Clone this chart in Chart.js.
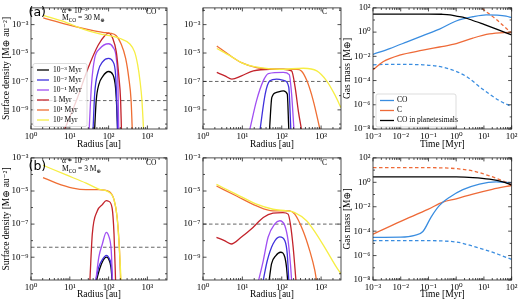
<!DOCTYPE html>
<html>
<head>
<meta charset="utf-8">
<script src="https://cdn.jsdelivr.net/npm/chart.js@4.4.1/dist/chart.umd.min.js"></script>
<style>
  html, body { margin: 0; padding: 0; background: #fff; }
  #fig { position: relative; width: 520px; height: 300px; overflow: hidden; }
  #fig canvas { position: absolute; }
</style>
</head>
<body>
<div id="fig">
  <canvas id="coA" width="170" height="150" style="left:0;top:0"></canvas>
  <canvas id="cA" width="173" height="150" style="left:170px;top:0"></canvas>
  <canvas id="massA" width="180" height="150" style="left:340px;top:0"></canvas>
  <canvas id="coB" width="170" height="150" style="left:0;top:150px"></canvas>
  <canvas id="cB" width="173" height="150" style="left:170px;top:150px"></canvas>
  <canvas id="massB" width="180" height="150" style="left:340px;top:150px"></canvas>
</div>
<script>
// ---- axis ticks ----
const radiusTicks = [1, 10, 100, 1000];
const radiusTickLabels = ['10⁰', '10¹', '10²', '10³'];
const sigmaTicks = [1e-9, 1e-7, 1e-5, 1e-3];
const sigmaTickLabels = ['10⁻⁹', '10⁻⁷', '10⁻⁵', '10⁻³'];
const timeTicks = [1e-3, 1e-2, 1e-1, 1, 10, 100];
const timeTickLabels = ['10⁻³', '10⁻²', '10⁻¹', '10⁰', '10¹', '10²'];
const massTicks = [1e-8, 1e-6, 1e-4, 1e-2, 1, 100];
const massTickLabels = ['10⁻⁸', '10⁻⁶', '10⁻⁴', '10⁻²', '10⁰', '10²'];

const snapshotLabels = ['10⁻³ Myr', '10⁻² Myr', '10⁻¹ Myr', '1 Myr', '10¹ Myr', '10² Myr'];
const massLabels = ['CO', 'C', 'CO in planetesimals'];

// ---- surface density snapshots [radius au, sigma] ----
// (a) CO, M_CO = 30
const coA_kyr1 = [[43.7,4.5e-11],[47.9,4.5e-9],[56.2,6.3e-8],[70.8,2.3e-7],[100,5.0e-7],[129,3.0e-7],[151,3.6e-8],[162,1.6e-9],[170,4.5e-11]];
const coA_kyr10 = [[39.8,4.5e-11],[43.7,1.26e-8],[53.7,5.0e-7],[70.8,2.5e-6],[100,4.2e-6],[129,2.5e-6],[151,3.2e-7],[162,4.5e-9],[170,4.5e-11]];
const coA_kyr100 = [[31.6,4.5e-11],[36.3,6.3e-8],[43.7,4.2e-6],[58.9,2.0e-5],[100,4.5e-5],[129,2.6e-5],[158,4.2e-6],[174,6.3e-8],[182,4.5e-11]];
const coA_myr1 = [[7.4,4.5e-11],[14.8,4.5e-9],[29.5,8.5e-7],[53.7,3.5e-5],[79.4,1.66e-4],[100,2.5e-4],[129,1.0e-4],[158,1.2e-5],[182,3.0e-7],[204,4.5e-9],[214,4.5e-11]];
const coA_myr10 = [[2.07,3.0e-3],[8.2,1.05e-3],[26.9,4.8e-4],[70.8,2.8e-4],[107,2.5e-4],[158,1.66e-4],[209,4.5e-5],[275,4.2e-6],[331,1.8e-7],[380,4.5e-9],[407,4.5e-11]];
const coA_myr100 = [[2.07,4.4e-3],[8.2,1.4e-3],[21.9,4.8e-4],[58.9,2.2e-4],[107,1.66e-4],[191,1.1e-4],[347,4.5e-5],[468,1.2e-5],[562,1.45e-6],[646,1.05e-7],[724,4.5e-9],[794,4.5e-11]];
const coA_limit = 4.5e-9;

// (a) C
const cA_kyr1 = [[49,4.3e-11],[56,7.6e-9],[74,1.7e-8],[110,2.2e-8],[138,1.3e-8],[151,4.3e-11]];
const cA_kyr10 = [[28.2,4.3e-11],[38,1.3e-8],[50,1.1e-7],[74,1.45e-7],[120,1.1e-7],[151,3.8e-8],[170,4.3e-11]];
const cA_kyr100 = [[15.5,4.3e-11],[22.9,4.5e-9],[33.9,1.1e-7],[45.7,3.6e-7],[110,4.3e-7],[155,3.0e-7],[178,1.3e-8],[204,4.3e-11]];
const cA_myr1 = [[2.24,4.3e-7],[3.6,2.5e-7],[5.4,1.45e-7],[9.5,2.5e-7],[19,5.5e-7],[50,7.2e-7],[110,7.2e-7],[178,5.5e-7],[219,3.8e-8],[263,8.9e-10],[316,4.3e-11]];
const cA_myr10 = [[2.24,3.1e-5],[4.4,8.1e-6],[9.5,2.1e-6],[22.9,9.5e-7],[50,7.5e-7],[110,7.0e-7],[240,7.0e-7],[316,5.5e-7],[437,1.1e-7],[631,4.5e-9],[933,4.3e-11]];
const cA_myr100 = [[2.24,2.1e-5],[4.9,6.3e-6],[10.7,1.8e-6],[28.2,9.5e-7],[91,7.2e-7],[355,8.5e-7],[776,5.5e-7],[1380,1.1e-7],[2290,1.0e-8],[3200,1.4e-9]];
const cA_limit = 1e-7;

// (b) CO, M_CO = 3
const coB_kyr1 = [[49,4.2e-11],[59,2.0e-10],[72,6.3e-10],[87,1.0e-9],[100,7.9e-10],[115,2.5e-10],[123,4.2e-11]];
const coB_kyr10 = [[47,4.2e-11],[56,2.6e-10],[71,7.9e-10],[87,1.3e-9],[100,1.0e-9],[117,3.2e-10],[126,4.2e-11]];
const coB_kyr100 = [[47,4.2e-11],[56,1.0e-9],[69,6.3e-9],[87,3.2e-8],[100,2.0e-8],[117,2.5e-9],[126,4.2e-11]];
const coB_myr1 = [[33,4.2e-11],[38,2.5e-8],[51,6.2e-7],[69,1.5e-6],[87,2.6e-6],[100,2.4e-6],[123,9.5e-7],[138,2.5e-8],[151,4.2e-11]];
const coB_myr10 = [[2.04,6.5e-5],[4.5,3.0e-5],[12,1.5e-5],[26,1.2e-5],[56,1.2e-5],[100,9.5e-6],[138,3.0e-6],[166,2.5e-7],[191,2.5e-9],[204,4.2e-11]];
const coB_myr100 = [[2.04,3.6e-4],[8.1,9.3e-5],[26.3,3.0e-5],[56,1.3e-5],[100,8.7e-6],[138,3.0e-6],[166,2.5e-7],[191,2.5e-9],[209,4.2e-11]];
const coB_limit = 4e-9;

// (b) C
const cB_kyr1 = [[48,4.2e-11],[55,4.0e-10],[71,1.26e-9],[93,2.0e-9],[120,1.0e-9],[132,2.5e-10],[141,4.2e-11]];
const cB_kyr10 = [[34,4.2e-11],[43,6.3e-10],[60,6.3e-9],[89,1.7e-8],[120,1.0e-8],[138,1.6e-9],[151,4.2e-11]];
const cB_kyr100 = [[26,4.2e-11],[34,6.3e-10],[45,1.6e-8],[66,1.0e-7],[89,1.6e-7],[120,7.9e-8],[145,1.0e-8],[166,4.0e-10],[178,4.2e-11]];
const cB_myr1 = [[2.2,1.6e-8],[3.5,1.0e-8],[5.2,6.3e-9],[9.3,1.6e-8],[18.6,6.3e-8],[34,2.5e-7],[60,4.6e-7],[107,5.0e-7],[145,4.0e-7],[166,1.0e-7],[195,4.0e-9],[229,4.2e-11]];
const cB_myr10 = [[2.2,2.0e-5],[7.1,5.0e-6],[22.9,1.26e-6],[60,6.3e-7],[158,6.3e-7],[214,4.0e-7],[347,4.0e-8],[513,2.5e-9],[692,1.6e-10],[759,4.2e-11]];
const cB_myr100 = [[2.2,2.5e-5],[7.1,6.3e-6],[22.9,1.6e-6],[60,7.9e-7],[132,6.3e-7],[214,5.0e-7],[427,1.6e-7],[759,2.5e-8],[1380,2.5e-9],[2450,2.5e-10],[3200,1.0e-10]];
const cB_limit = 1e-7;

// ---- gas mass vs time [Myr, M_earth] ----
const massA_CO = [[1e-3,0.0145],[0.004,0.044],[0.016,0.15],[0.063,0.52],[0.25,1.78],[1,8.3],[4,18.6],[12,27],[30,25.5],[63,21],[100,15.5]];
const massA_C = [[1e-3,7.9e-4],[0.0023,3.6e-3],[0.0091,0.0126],[0.063,0.032],[0.25,0.059],[1,0.11],[4,0.32],[15.8,0.71],[100,1.0]];
const massA_plan = [[1e-3,31],[0.1,31],[0.3,30],[0.6,27],[1,21],[2.1,15],[3.6,10],[10,4.3],[30,1.7],[100,0.59]];
const massA_COdash = [[1e-3,2.0e-3],[0.004,2.2e-3],[0.063,2.0e-3],[0.44,1.07e-3],[2.3,2.2e-4],[9.1,1.9e-5],[36,2.2e-6],[100,7.1e-7]];
const massA_Cdash = [[3.98,372],[8.1,100],[27.5,11.4],[100,0.8]];

const massB_CO = [[1e-3,3.1e-5],[0.01,3.2e-5],[0.032,4.5e-5],[0.063,9.3e-5],[0.126,1.5e-3],[0.25,0.013],[0.58,0.06],[1.74,0.25],[6.9,0.72],[27.5,1.1],[100,0.9]];
const massB_C = [[1e-3,5.6e-5],[0.01,6.3e-4],[0.1,6.3e-3],[0.33,0.024],[1,0.045],[4,0.11],[20,0.27],[100,0.55]];
const massB_plan = [[1e-3,2.8],[0.1,2.8],[1,2.75],[4,2.45],[15.8,1.82],[48,1.1],[100,0.59]];
const massB_COdash = [[1e-3,1.66e-5],[0.063,1.66e-5],[1,1.3e-5],[4,5.8e-6],[15.8,2.3e-6],[48,9.1e-7],[100,4.9e-7]];
const massB_Cdash = [[1e-3,15.8],[0.1,15.8],[1,13.2],[4,8.5],[15.8,3.4],[48,1.32],[100,0.72]];

// ---- styling ----
const snapColors = ['#000000', '#3f30dc', '#a04ff2', '#c3232b', '#ef6e33', '#f6ee44'];
const massColors = ['#3a8de0', '#ee6a38', '#000000'];
const serif = "'Liberation Serif', 'DejaVu Serif', serif";
const tickFont = { family: serif, size: 9 };
const titleFont = { family: serif, size: 9.5, lineHeight: 1.1 };

const pts = arr => arr.map(p => ({ x: p[0], y: p[1] }));

function minorTicks(scale, major) {
  const out = [];
  const lo = Math.floor(Math.log10(scale.min)), hi = Math.ceil(Math.log10(scale.max));
  const step = Math.abs(Math.round(Math.log10(major[1] / major[0])));
  for (let k = lo; k <= hi; k++) {
    if (step > 1) {
      if (!major.some(m => Math.abs(Math.log10(m) - k) < 1e-6)) out.push(Math.pow(10, k));
    } else {
      for (let m = 2; m <= 9; m++) out.push(m * Math.pow(10, k));
    }
  }
  return out.filter(v => v > scale.min && v < scale.max);
}

// box + inward ticks on all four sides, like the matplotlib originals
const frame = {
  id: 'frame',
  afterDatasetsDraw(chart) {
    const { ctx, chartArea: a } = chart;
    const sx = chart.scales.x, sy = chart.scales.y;
    ctx.save();
    ctx.strokeStyle = '#222';
    ctx.lineWidth = 0.8;
    const mark = (scale, vals, len) => {
      vals.forEach(v => {
        if (v < scale.min * 0.999 || v > scale.max * 1.001) return;
        const p = scale.getPixelForValue(v);
        ctx.beginPath();
        if (scale.isHorizontal()) {
          ctx.moveTo(p, a.bottom); ctx.lineTo(p, a.bottom - len);
          ctx.moveTo(p, a.top); ctx.lineTo(p, a.top + len);
        } else {
          ctx.moveTo(a.left, p); ctx.lineTo(a.left + len, p);
          ctx.moveTo(a.right, p); ctx.lineTo(a.right - len, p);
        }
        ctx.stroke();
      });
    };
    const xm = sx.ticks.map(t => t.value), ym = sy.ticks.map(t => t.value);
    mark(sx, xm, 3.5); mark(sx, minorTicks(sx, xm), 2);
    mark(sy, ym, 3.5); mark(sy, minorTicks(sy, ym), 2);
    ctx.strokeRect(a.left, a.top, a.right - a.left, a.bottom - a.top);
    ctx.restore();
  }
};

function boxLegend(spec) {
  return {
    id: 'boxLegend',
    afterDatasetsDraw(chart) {
      const ctx = chart.ctx;
      ctx.save();
      ctx.beginPath();
      ctx.roundRect(spec.x, spec.y, spec.w, spec.h, 2);
      ctx.fillStyle = 'rgba(255,255,255,0.8)';
      ctx.fill();
      ctx.strokeStyle = '#d4d4d4';
      ctx.lineWidth = 0.8;
      ctx.stroke();
      ctx.font = `${spec.size}px ${serif}`;
      ctx.textBaseline = 'middle';
      spec.labels.forEach((lab, i) => {
        const y = spec.row0 + i * spec.rowH;
        ctx.strokeStyle = spec.colors[i];
        ctx.lineWidth = 1.3;
        ctx.beginPath();
        ctx.moveTo(spec.line0, y); ctx.lineTo(spec.line1, y);
        ctx.stroke();
        ctx.fillStyle = '#000';
        ctx.fillText(lab, spec.textX, y);
      });
      ctx.restore();
    }
  };
}

function notes(items) {
  return {
    id: 'notes',
    afterDraw(chart) {
      const ctx = chart.ctx;
      ctx.save();
      ctx.fillStyle = '#000';
      ctx.textBaseline = 'alphabetic';
      items.forEach(it => {
        let x = it.x;
        it.parts.forEach(p => {
          const size = p.sub ? it.size * 0.72 : it.size;
          ctx.font = `${size}px ${it.family || serif}`;
          ctx.fillText(p.t, x, it.y + (p.sub ? it.size * 0.28 : 0));
          x += ctx.measureText(p.t).width;
        });
      });
      ctx.restore();
    }
  };
}

function logAxis(min, max, ticks, labels, title, fit, titlePad) {
  return {
    type: 'logarithmic', min: min, max: max,
    afterBuildTicks: s => { s.ticks = ticks.map(v => ({ value: v })); },
    afterFit: s => { if (s.isHorizontal()) s.height = fit; else s.width = fit; },
    grid: { display: false, drawTicks: false },
    border: { display: false },
    ticks: { autoSkip: false, maxRotation: 0, padding: 2.5, color: '#000', font: tickFont,
             callback: (v, i) => labels[i] },
    title: { display: !!title, text: title, color: '#000', font: titleFont, padding: titlePad }
  };
}

function makeChart(id, datasets, x, y, padRight, extra) {
  return new Chart(document.getElementById(id), {
    type: 'line',
    data: { datasets },
    options: {
      responsive: false, animation: false, devicePixelRatio: 1,
      layout: { padding: { top: 5, right: padRight, left: 0, bottom: 0 }, autoPadding: false },
      plugins: { legend: { display: false }, tooltip: { enabled: false } },
      elements: { point: { radius: 0 }, line: { borderWidth: 1.3, cubicInterpolationMode: 'monotone' } },
      scales: { x, y }
    },
    plugins: [frame].concat(extra)
  });
}

function snapshotSets(curves, limit) {
  const sets = curves.map((c, i) => ({
    label: snapshotLabels[i], data: pts(c), borderColor: snapColors[i], order: 10 - i
  }));
  sets.push({ label: 'limit', data: pts([[1, limit], [3200, limit]]),
              borderColor: '#555', borderWidth: 0.9, borderDash: [3.5, 2.5], order: 20 });
  return sets;
}

function massSets(co, c, plan, coDash, cDash) {
  return [
    { label: massLabels[2], data: pts(plan), borderColor: massColors[2], order: 1 },
    { label: massLabels[0], data: pts(co), borderColor: massColors[0], order: 2 },
    { label: massLabels[1], data: pts(c), borderColor: massColors[1], order: 3 },
    { label: 'CO dashed', data: pts(coDash), borderColor: massColors[0], borderDash: [3.5, 2.5], order: 4 },
    { label: 'C dashed', data: pts(cDash), borderColor: massColors[1], borderDash: [3.5, 2.5], order: 5 }
  ];
}

const sigmaTitle = 'Surface density [M⊕ au⁻²]';
const rowA = { min: 4.5e-11, max: 1.5e-2 };
const rowB = { min: 4.2e-11, max: 1e-3 };

// (a) CO
makeChart('coA',
  snapshotSets([coA_kyr1, coA_kyr10, coA_kyr100, coA_myr1, coA_myr10, coA_myr100], coA_limit),
  logAxis(1, 3200, radiusTicks, radiusTickLabels, 'Radius [au]', 21, { top: 0, bottom: 0 }),
  logAxis(rowA.min, rowA.max, sigmaTicks, sigmaTickLabels, sigmaTitle, 31, { top: 1, bottom: 0 }),
  3,
  [boxLegend({ x: 33, y: 63.5, w: 54, h: 63, size: 7.5, labels: snapshotLabels, colors: snapColors,
               row0: 70, rowH: 10, line0: 37, line1: 49, textX: 53 }),
   notes([
     { x: 28.5, y: 16, size: 12.5, family: "'DejaVu Sans', sans-serif", parts: [{ t: '(a)' }] },
     { x: 62, y: 12.5, size: 7.5, parts: [{ t: 'α = 10⁻³' }] },
     { x: 62, y: 20, size: 7.5, parts: [{ t: 'M' }, { t: 'CO', sub: true }, { t: ' = 30 M' }, { t: '⊕', sub: true }] },
     { x: 146, y: 14, size: 7.5, parts: [{ t: 'CO' }] }
   ])]);

// (a) C
makeChart('cA',
  snapshotSets([cA_kyr1, cA_kyr10, cA_kyr100, cA_myr1, cA_myr10, cA_myr100], cA_limit),
  logAxis(1, 3200, radiusTicks, radiusTickLabels, 'Radius [au]', 21, { top: 0, bottom: 0 }),
  logAxis(rowA.min, rowA.max, sigmaTicks, sigmaTickLabels, '', 33, 0),
  2,
  [notes([{ x: 152, y: 14, size: 7.5, parts: [{ t: 'C' }] }])]);

// (a) gas mass
makeChart('massA',
  massSets(massA_CO, massA_C, massA_plan, massA_COdash, massA_Cdash),
  logAxis(1e-3, 100, timeTicks, timeTickLabels, 'Time [Myr]', 21, { top: 0, bottom: 0 }),
  logAxis(1e-8, 100, massTicks, massTickLabels, 'Gas mass [M⊕]', 33, { top: 2, bottom: 0 }),
  8,
  [boxLegend({ x: 36, y: 94, w: 80, h: 33, size: 7.5, labels: massLabels, colors: massColors,
               row0: 100.5, rowH: 10, line0: 40, line1: 54, textX: 57 })]);

// (b) CO
makeChart('coB',
  snapshotSets([coB_kyr1, coB_kyr10, coB_kyr100, coB_myr1, coB_myr10, coB_myr100], coB_limit),
  logAxis(1, 3200, radiusTicks, radiusTickLabels, 'Radius [au]', 20, { top: 0, bottom: 0 }),
  logAxis(rowB.min, rowB.max, sigmaTicks, sigmaTickLabels, sigmaTitle, 31, { top: 1, bottom: 0 }),
  3,
  [notes([
     { x: 28.5, y: 20, size: 12.5, family: "'DejaVu Sans', sans-serif", parts: [{ t: '(b)' }] },
     { x: 62, y: 13, size: 7.5, parts: [{ t: 'α = 10⁻³' }] },
     { x: 62, y: 20.5, size: 7.5, parts: [{ t: 'M' }, { t: 'CO', sub: true }, { t: ' = 3 M' }, { t: '⊕', sub: true }] },
     { x: 146, y: 15, size: 7.5, parts: [{ t: 'CO' }] }
   ])]);

// (b) C
makeChart('cB',
  snapshotSets([cB_kyr1, cB_kyr10, cB_kyr100, cB_myr1, cB_myr10, cB_myr100], cB_limit),
  logAxis(1, 3200, radiusTicks, radiusTickLabels, 'Radius [au]', 20, { top: 0, bottom: 0 }),
  logAxis(rowB.min, rowB.max, sigmaTicks, sigmaTickLabels, '', 33, 0),
  2,
  [notes([{ x: 152, y: 15, size: 7.5, parts: [{ t: 'C' }] }])]);

// (b) gas mass
makeChart('massB',
  massSets(massB_CO, massB_C, massB_plan, massB_COdash, massB_Cdash),
  logAxis(1e-3, 100, timeTicks, timeTickLabels, 'Time [Myr]', 20, { top: 0, bottom: 0 }),
  logAxis(1e-8, 100, massTicks, massTickLabels, 'Gas mass [M⊕]', 33, { top: 2, bottom: 0 }),
  8,
  []);
</script>
</body>
</html>
